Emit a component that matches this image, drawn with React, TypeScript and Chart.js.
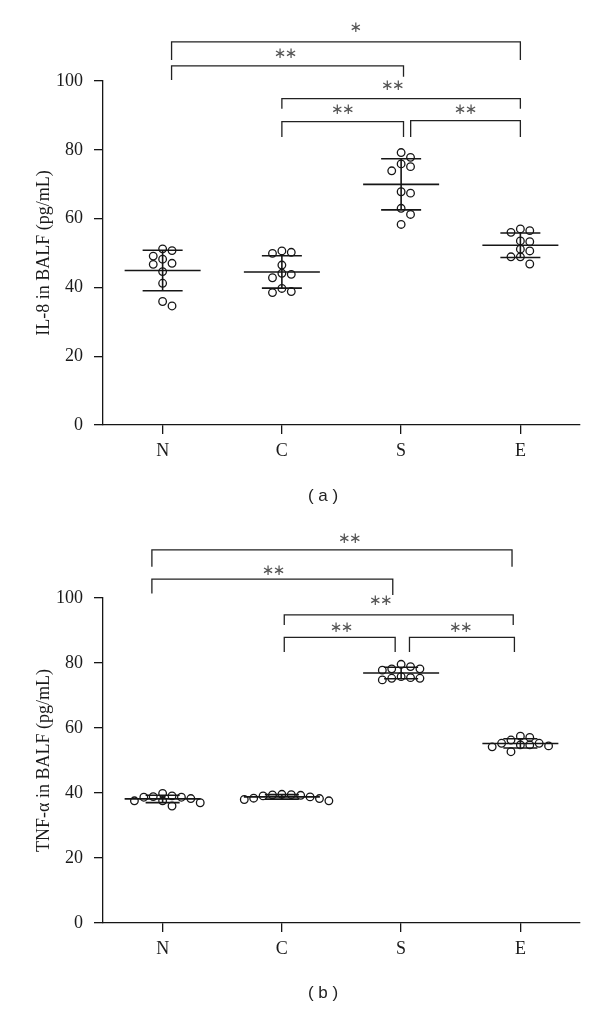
import React, { useEffect, useRef } from "react";
import { Chart, registerables } from "chart.js";
Chart.register(...registerables);

const categories = ["N", "C", "S", "E"];
const yTicks = [0, 20, 40, 60, 80, 100];

// Panel (a): IL-8 in BALF (pg/mL)
const il8N = [51.2, 50.7, 49.1, 48.2, 47.0, 46.7, 44.6, 41.2, 35.9, 34.6];
const il8C = [50.6, 50.2, 49.9, 46.5, 44.1, 43.8, 42.8, 39.7, 38.8, 38.5];
const il8S = [79.2, 77.8, 75.9, 75.1, 73.9, 67.8, 67.4, 63.0, 61.2, 58.3];
const il8E = [57.0, 56.5, 56.0, 53.5, 53.3, 51.1, 50.6, 48.9, 48.9, 46.8];

// Panel (b): TNF-α in BALF (pg/mL)
const tnfN = [39.9, 39.1, 38.9, 38.7, 38.7, 38.3, 37.6, 37.6, 37.0, 36.0];
const tnfC = [39.6, 39.5, 39.4, 39.3, 39.1, 38.8, 38.4, 38.3, 38.0, 37.6];
const tnfS = [79.6, 78.9, 78.2, 78.2, 77.8, 75.8, 75.5, 75.3, 75.3, 74.8];
const tnfE = [57.5, 57.1, 56.3, 55.3, 55.3, 54.8, 54.8, 54.5, 54.2, 52.7];

// Significance brackets: leg positions on the group axis (1 = N ... 4 = E), levels in axis units
const il8Brackets = [
  { x1: 1.075, x2: 4.0, label: "*", line: 111.4, legFrom: 106.1, legTo: 106.1, text: 115.4, textX: 2.62 },
  { x1: 1.075, x2: 3.02, label: "**", line: 104.4, legFrom: 100.3, legTo: 101.2, text: 107.8, textX: 2.03 },
  { x1: 2.0, x2: 4.0, label: "**", line: 94.9, legFrom: 91.9, legTo: 91.9, text: 98.4, textX: 2.93 },
  { x1: 2.0, x2: 3.02, label: "**", line: 88.2, legFrom: 83.7, legTo: 83.7, text: 91.6, textX: 2.51 },
  { x1: 3.08, x2: 4.0, label: "**", line: 88.5, legFrom: 83.7, legTo: 83.7, text: 91.6, textX: 3.54 },
];
const tnfBrackets = [
  { x1: 0.91, x2: 3.93, label: "**", line: 114.8, legFrom: 109.6, legTo: 109.6, text: 118.1, textX: 2.57 },
  { x1: 0.91, x2: 2.93, label: "**", line: 105.8, legFrom: 101.4, legTo: 100.9, text: 108.4, textX: 1.93 },
  { x1: 2.02, x2: 3.94, label: "**", line: 94.8, legFrom: 91.7, legTo: 91.7, text: 99.1, textX: 2.83 },
  { x1: 2.02, x2: 2.95, label: "**", line: 87.9, legFrom: 83.4, legTo: 83.4, text: 90.6, textX: 2.5 },
  { x1: 3.07, x2: 3.95, label: "**", line: 87.9, legFrom: 83.4, legTo: 83.4, text: 90.6, textX: 3.5 },
];

const INK = "#161616";
const SERIF = '"Liberation Serif", "DejaVu Serif", serif';
const SWARM_STEP = 9.4;
const SWARM_MIN = 7.4;

function mean(a: number[]) {
  return a.reduce((s, v) => s + v, 0) / a.length;
}
function sd(a: number[]) {
  const m = mean(a);
  return Math.sqrt(a.reduce((s, v) => s + (v - m) * (v - m), 0) / (a.length - 1));
}

const errorBarPlugin = {
  id: "errbars",
  beforeDatasetsDraw(chart: any, _a: any, opts: any) {
    const { ctx } = chart;
    const xs = chart.scales.x;
    const ys = chart.scales.y;
    ctx.save();
    ctx.strokeStyle = INK;
    ctx.lineWidth = 1.6;
    (opts.groups as number[][]).forEach((vals, gi) => {
      const m = mean(vals);
      const s = sd(vals);
      const px = xs.getPixelForValue(gi + 1);
      const ym = ys.getPixelForValue(m);
      const yt = ys.getPixelForValue(m + s);
      const yb = ys.getPixelForValue(m - s);
      ctx.beginPath();
      ctx.moveTo(px - opts.meanHalf, ym);
      ctx.lineTo(px + opts.meanHalf, ym);
      ctx.moveTo(px - opts.capHalf, yt);
      ctx.lineTo(px + opts.capHalf, yt);
      ctx.moveTo(px - opts.capHalf, yb);
      ctx.lineTo(px + opts.capHalf, yb);
      ctx.moveTo(px, yt);
      ctx.lineTo(px, yb);
      ctx.stroke();
    });
    ctx.restore();
  },
};

const bracketPlugin = {
  id: "brackets",
  afterDraw(chart: any, _a: any, opts: any) {
    const { ctx } = chart;
    const xs = chart.scales.x;
    const ys = chart.scales.y;
    const list = opts.items as typeof il8Brackets;
    ctx.save();
    ctx.strokeStyle = "#222";
    ctx.lineWidth = 1.3;
    list.forEach((b) => {
      const x1 = xs.getPixelForValue(b.x1);
      const x2 = xs.getPixelForValue(b.x2);
      const yl = ys.getPixelForValue(b.line);
      ctx.beginPath();
      ctx.moveTo(x1, ys.getPixelForValue(b.legFrom));
      ctx.lineTo(x1, yl);
      ctx.lineTo(x2, yl);
      ctx.lineTo(x2, ys.getPixelForValue(b.legTo));
      ctx.stroke();
      const n = b.label.length;
      const cx = xs.getPixelForValue(b.textX);
      const ty = ys.getPixelForValue(b.text);
      ctx.fillStyle = "#555";
      ctx.font = '15px "DejaVu Sans"';
      ctx.textAlign = "center";
      ctx.textBaseline = "middle";
      for (let k = 0; k < n; k++) ctx.fillText("\u2217", cx + (k - (n - 1) / 2) * 11, ty);
    });
    ctx.restore();
  },
};

const captionPlugin = {
  id: "caption",
  afterDraw(chart: any, _a: any, opts: any) {
    const { ctx } = chart;
    ctx.save();
    ctx.fillStyle = "#222";
    ctx.font = '17px "Liberation Sans", Arial, sans-serif';
    ctx.textAlign = "center";
    ctx.textBaseline = "middle";
    ctx.fillText(opts.text, opts.x, opts.y);
    ctx.restore();
  },
};

function applySwarm(chart: any, groups: number[][]) {
  const xs = chart.scales.x;
  const ys = chart.scales.y;
  const unit = xs.getPixelForValue(2) - xs.getPixelForValue(1);
  groups.forEach((vals, gi) => {
    const placed: { px: number; py: number }[] = [];
    const offs = new Array(vals.length).fill(0);
    const order = vals.map((_, i) => i).sort((a, b) => vals[b] - vals[a]);
    for (const i of order) {
      const py = ys.getPixelForValue(vals[i]);
      let chosen = 0;
      outer: for (let s = 0; s < 30; s++) {
        const cands = s === 0 ? [0] : [s, -s];
        for (const c of cands) {
          const px = c * SWARM_STEP;
          if (placed.every((p) => Math.hypot(p.px - px, p.py - py) >= SWARM_MIN)) {
            chosen = px;
            break outer;
          }
        }
      }
      placed.push({ px: chosen, py });
      offs[i] = chosen;
    }
    chart.data.datasets[gi].data = vals.map((v, i) => ({ x: gi + 1 + offs[i] / unit, y: v }));
  });
  chart.update("none");
}

type PanelProps = {
  groups: number[][];
  brackets: typeof il8Brackets;
  yTitle: string;
  caption: string;
  height: number;
  areaTop: number;
  areaBottom: number;
  captionY: number;
  capHalf: number;
};

function Panel(p: PanelProps) {
  const ref = useRef<HTMLCanvasElement>(null);
  useEffect(() => {
    const font = { family: SERIF, size: 18 };
    const chart = new Chart(ref.current as HTMLCanvasElement, {
      type: "scatter",
      data: {
        datasets: p.groups.map((vals, gi) => ({
          label: categories[gi],
          data: vals.map((v) => ({ x: gi + 1, y: v })),
          pointRadius: 3.8,
          pointBorderWidth: 1.3,
          pointBorderColor: INK,
          pointBackgroundColor: "rgba(0,0,0,0)",
          showLine: false,
        })),
      },
      options: {
        responsive: false,
        animation: false,
        events: [],
        layout: { padding: { top: p.areaTop, right: 20, bottom: 0, left: 0 } },
        plugins: {
          legend: { display: false },
          tooltip: { enabled: false },
          errbars: { groups: p.groups, meanHalf: 38, capHalf: p.capHalf },
          brackets: { items: p.brackets },
          caption: { text: p.caption, x: 323, y: p.captionY },
        } as any,
        scales: {
          x: {
            type: "linear",
            min: 0.5,
            max: 4.5,
            afterBuildTicks: (s: any) => {
              s.ticks = categories.map((_, i) => ({ value: i + 1 }));
            },
            afterFit: (s: any) => {
              s.height = p.height - p.areaBottom;
            },
            ticks: {
              callback: (v: any) => categories[Number(v) - 1] ?? "",
              font,
              color: "#1a1a1a",
              padding: 6,
              maxRotation: 0,
              autoSkip: false,
            },
            grid: { drawOnChartArea: false, drawTicks: true, tickLength: 9, color: INK, lineWidth: 1.3 },
            border: { display: true, color: INK, width: 1.3 },
          },
          y: {
            min: 0,
            max: 100,
            afterBuildTicks: (s: any) => {
              s.ticks = yTicks.map((v) => ({ value: v }));
            },
            afterFit: (s: any) => {
              s.width = 103;
            },
            ticks: { font, color: "#1a1a1a", padding: 11 },
            title: {
              display: true,
              text: p.yTitle,
              font,
              color: "#1a1a1a",
              padding: { top: 33, bottom: 0 },
            },
            grid: { drawOnChartArea: false, drawTicks: true, tickLength: 9, color: INK, lineWidth: 1.3 },
            border: { display: true, color: INK, width: 1.3 },
          },
        },
      },
      plugins: [errorBarPlugin, bracketPlugin, captionPlugin],
    } as any);
    applySwarm(chart, p.groups);
    return () => chart.destroy();
  }, []);
  return <canvas ref={ref} width={600} height={p.height} style={{ display: "block" }} />;
}

export default function App() {
  return (
    <div style={{ position: "absolute", left: 0, top: 0, width: 600, height: 1009, background: "#fff" }}>
      <Panel
        groups={[il8N, il8C, il8S, il8E]}
        brackets={il8Brackets}
        yTitle="IL-8 in BALF (pg/mL)"
        caption="( a )"
        height={505}
        areaTop={81}
        areaBottom={425}
        captionY={496}
        capHalf={20}
      />
      <Panel
        groups={[tnfN, tnfC, tnfS, tnfE]}
        brackets={tnfBrackets}
        yTitle="TNF-α in BALF (pg/mL)"
        caption="( b )"
        height={504}
        areaTop={93}
        areaBottom={418}
        captionY={488}
        capHalf={17}
      />
    </div>
  );
}
